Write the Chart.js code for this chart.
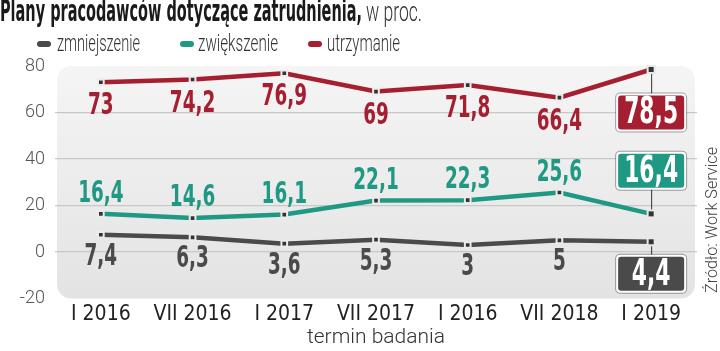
<!DOCTYPE html>
<html><head><meta charset="utf-8">
<script src="https://cdn.jsdelivr.net/npm/chart.js@4/dist/chart.umd.min.js"></script>
<style>html,body{margin:0;padding:0;background:#fff}#wrap{width:720px;height:351px;position:relative}</style>
</head><body><div id="wrap"><canvas id="c" width="720" height="351"></canvas></div>
<script>
const categories = ['I 2016','VII 2016','I 2017','VII 2017','I 2016','VII 2018','I 2019'];
const zmniejszenie = [7.4, 6.3, 3.6, 5.3, 3, 5, 4.4];
const zwiekszenie = [16.4, 14.6, 16.1, 22.1, 22.3, 25.6, 16.4];
const utrzymanie = [73, 74.2, 76.9, 69, 71.8, 66.4, 78.5];
const yTicks = [-20, 0, 20, 40, 60, 80];
const seriesNames = ['zmniejszenie', 'zwiększenie', 'utrzymanie'];
const titleMain = 'Plany pracodawców dotyczące zatrudnienia,';
const titleUnit = 'w proc.';
const axisTitle = 'termin badania';
const sourceText = 'Źródło: Work Service';

const COLORS = ['#4a4a4a', '#1f9983', '#a51f31'];
const NARROW = "'Liberation Sans Narrow','DejaVu Sans Condensed','Roboto',sans-serif";
const LIGHT = "'Roboto','DejaVu Sans Condensed',sans-serif";

function fitText(ctx, text, x, y, w, align) {
  const m = ctx.measureText(text).width;
  const s = w / m;
  ctx.save();
  ctx.translate(x, y);
  ctx.scale(s, 1);
  ctx.textAlign = align || 'left';
  ctx.fillText(text, 0, 0);
  ctx.restore();
}
function scaledText(ctx, text, x, y, sx) {
  ctx.save();
  ctx.translate(x, y);
  ctx.scale(sx, 1);
  ctx.textAlign = 'center';
  ctx.fillText(text, 0, 0);
  ctx.restore();
}
function fmt(v) { return String(v).replace('.', ','); }

const bgPlugin = {
  id: 'bg',
  beforeDraw(chart) {
    const { ctx, chartArea: a } = chart;
    ctx.save();
    const g = ctx.createLinearGradient(0, a.top, 0, a.bottom);
    g.addColorStop(0, '#f5f5f5');
    g.addColorStop(1, '#e3e3e3');
    ctx.fillStyle = g;
    ctx.beginPath();
    ctx.roundRect(a.left + 2, a.top, a.right - a.left - 4, a.bottom - a.top, 14);
    ctx.fill();
    ctx.restore();
  }
};

const labelPlugin = {
  id: 'labels',
  afterDatasetsDraw(chart) {
    const { ctx } = chart;
    const offs = [22, -20, 24];
    const boxOff = [32, -43, 43];
    const n = categories.length;
    ctx.save();
    ctx.textBaseline = 'middle';
    chart.data.datasets.forEach((ds, di) => {
      const meta = chart.getDatasetMeta(di);
      meta.data.forEach((pt, i) => {
        if (i === n - 1) return;
        ctx.fillStyle = COLORS[di];
        ctx.font = 'bold 31px ' + NARROW;
        scaledText(ctx, fmt(ds.data[i]), pt.x, pt.y + offs[di], 0.66);
      });
    });
    chart.data.datasets.forEach((ds, di) => {
      const meta = chart.getDatasetMeta(di);
      const pt = meta.data[n - 1];
      const cy = pt.y + boxOff[di];
      const bw = 70, bh = 38;
      ctx.strokeStyle = '#333';
      ctx.lineWidth = 1;
      ctx.beginPath();
      ctx.moveTo(pt.x + 0.5, pt.y);
      ctx.lineTo(pt.x + 0.5, cy);
      ctx.stroke();
      ctx.fillStyle = 'rgba(0,0,0,0.35)';
      ctx.beginPath();
      ctx.roundRect(pt.x - bw / 2 - 1, cy - bh / 2 - 1, bw + 2, bh + 2, 5);
      ctx.fill();
      ctx.fillStyle = '#fff';
      ctx.beginPath();
      ctx.roundRect(pt.x - bw / 2, cy - bh / 2, bw, bh, 4);
      ctx.fill();
      ctx.fillStyle = COLORS[di];
      ctx.beginPath();
      ctx.roundRect(pt.x - bw / 2 + 2, cy - bh / 2 + 2, bw - 4, bh - 4, 3);
      ctx.fill();
      ctx.fillStyle = '#fff';
      ctx.font = 'bold 38px ' + NARROW;
      scaledText(ctx, fmt(ds.data[n - 1]), pt.x, cy + 1, 0.64);
    });
    chart.data.datasets.forEach((ds, di) => {
      const pt = chart.getDatasetMeta(di).data[n - 1];
      ctx.fillStyle = '#e8e8e8';
      ctx.fillRect(pt.x - 4.5, pt.y - 4.5, 9, 9);
      ctx.fillStyle = '#333';
      ctx.fillRect(pt.x - 2.5, pt.y - 2.5, 5, 5);
    });
    ctx.restore();
  }
};

const decoPlugin = {
  id: 'deco',
  afterDraw(chart) {
    const { ctx } = chart;
    ctx.save();
    ctx.textBaseline = 'alphabetic';
    ctx.fillStyle = '#1a1a1a';
    ctx.font = 'bold 30px ' + NARROW;
    fitText(ctx, titleMain, 0, 21, 362);
    ctx.fillStyle = '#333';
    ctx.font = '300 28px ' + LIGHT;
    fitText(ctx, titleUnit, 366, 21, 56);
    const leg = [[37, 57, 83], [180, 198, 80], [308, 327, 73]];
    ctx.font = '300 24px ' + LIGHT;
    leg.forEach((l, i) => {
      ctx.fillStyle = COLORS[i];
      ctx.beginPath();
      ctx.roundRect(l[0], 41, 14, 6, 3);
      ctx.fill();
      ctx.fillStyle = '#333';
      fitText(ctx, seriesNames[i], l[1], 51, l[2]);
    });
    ctx.translate(717, 293);
    ctx.rotate(-Math.PI / 2);
    ctx.fillStyle = '#444';
    ctx.font = '300 17px ' + LIGHT;
    fitText(ctx, sourceText, 0, 0, 146);
    ctx.restore();
  }
};

const mkDs = (label, data, color) => ({
  label, data,
  borderColor: color,
  backgroundColor: color,
  borderWidth: 4.5,
  pointStyle: 'rect',
  pointRadius: 4,
  pointBackgroundColor: '#333',
  pointBorderColor: '#ececec',
  pointBorderWidth: 2,
  tension: 0
});

new Chart(document.getElementById('c'), {
  type: 'line',
  data: {
    labels: categories,
    datasets: [
      mkDs(seriesNames[0], zmniejszenie, COLORS[0]),
      mkDs(seriesNames[1], zwiekszenie, COLORS[1]),
      mkDs(seriesNames[2], utrzymanie, COLORS[2])
    ]
  },
  options: {
    responsive: false,
    animation: false,
    devicePixelRatio: 1,
    layout: { padding: { top: 66, left: 0, right: 23, bottom: 0 } },
    plugins: { legend: { display: false }, tooltip: { enabled: false } },
    scales: {
      x: {
        offset: true,
        grid: { display: false, drawTicks: false },
        border: { display: false },
        ticks: { color: '#222', font: { family: NARROW, size: 21 }, padding: 3, maxRotation: 0, autoSkip: false },
        title: { display: true, text: axisTitle, color: '#333', font: { family: LIGHT, size: 21, weight: 300 }, padding: { top: 0, bottom: 1 } },
        afterFit(s) { s.height = 52.5; }
      },
      y: {
        min: -20, max: 80,
        afterBuildTicks(s) { s.ticks = yTicks.map(v => ({ value: v })); },
        grid: {
          drawTicks: false,
          color: c => (c.tick && c.tick.value > -20 && c.tick.value < 80) ? '#c8c8c8' : 'rgba(0,0,0,0)',
          lineWidth: 1.2
        },
        border: { display: false },
        ticks: { color: '#555', font: { family: LIGHT, size: 18, weight: 300 }, padding: 10 },
        afterFit(s) { s.width = 55; }
      }
    }
  },
  plugins: [bgPlugin, labelPlugin, decoPlugin]
});
</script>
</body></html>
